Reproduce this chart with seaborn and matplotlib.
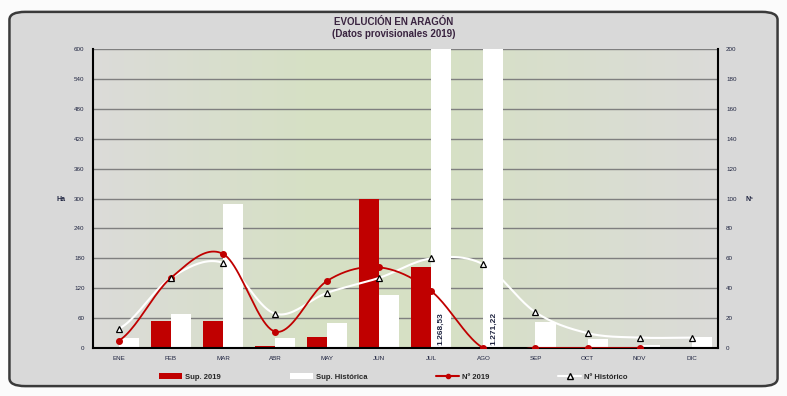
import numpy as np
import pandas as pd
import matplotlib
matplotlib.use("Agg")
import matplotlib.pyplot as plt
import seaborn as sns
from matplotlib.patches import FancyBboxPatch, Patch
from matplotlib.lines import Line2D

# =====================
# DATA
# =====================
meses = ["ENE", "FEB", "MAR", "ABR", "MAY", "JUN", "JUL", "AGO", "SEP", "OCT", "NOV", "DIC"]
sup_2019 = [0, 54, 54, 4, 22, 300, 162, 0, 0, 0, 0, 0]
sup_hist = [20, 68, 290, 20, 50, 106, 1268.53, 1271.22, 52, 18, 6, 22]
n_2019 = [5, 47, 63, 11, 45, 54, 38, 0, 0, 0, 0, None]
n_hist = [13, 47, 57, 23, 37, 47, 60, 56, 24, 10, 7, 7]
etiquetas = {6: "1.268,53", 7: "1.271,22"}

ROJO = "#c00000"
TXT = "#1f2440"

def suavizar(x, y, n=24):
    # curva tipo Excel (Catmull-Rom) entre puntos
    x = np.asarray(x, float)
    y = np.asarray(y, float)
    px = np.concatenate([[2 * x[0] - x[1]], x, [2 * x[-1] - x[-2]]])
    py = np.concatenate([[y[0]], y, [y[-1]]])
    xs, ys = [], []
    t = np.linspace(0, 1, n)
    for i in range(1, len(px) - 2):
        p0, p1, p2, p3 = py[i - 1], py[i], py[i + 1], py[i + 2]
        q0, q1, q2, q3 = px[i - 1], px[i], px[i + 1], px[i + 2]
        fy = 0.5 * ((2 * p1) + (-p0 + p2) * t + (2 * p0 - 5 * p1 + 4 * p2 - p3) * t**2 + (-p0 + 3 * p1 - 3 * p2 + p3) * t**3)
        fx = 0.5 * ((2 * q1) + (-q0 + q2) * t + (2 * q0 - 5 * q1 + 4 * q2 - q3) * t**2 + (-q0 + 3 * q1 - 3 * q2 + q3) * t**3)
        xs.append(fx)
        ys.append(fy)
    return np.concatenate(xs), np.concatenate(ys)

sns.set_style("white")
plt.rcParams["font.family"] = ["Liberation Sans", "DejaVu Sans"]

fig = plt.figure(figsize=(7.87, 3.96), dpi=100)
fig.patch.set_facecolor("#fbfbfb")
marco = FancyBboxPatch((0.012, 0.025), 0.976, 0.945, boxstyle="round,pad=0,rounding_size=0.02",
                       transform=fig.transFigure, facecolor="#d9d9d9", edgecolor="#3a3a3a", linewidth=1.8, zorder=-10)
fig.patches.append(marco)

ax = fig.add_axes([0.118, 0.121, 0.794, 0.755])
ax.set_facecolor("none")

# fondo degradado gris-verde-gris
grad = np.array([[0.86, 0.86, 0.85], [0.84, 0.88, 0.77], [0.84, 0.88, 0.77], [0.86, 0.86, 0.85]])
xs_g = np.linspace(0, 1, 200)
cols = np.stack([np.interp(xs_g, [0, 0.35, 0.55, 1], grad[:, c]) for c in range(3)], axis=-1)
ax.imshow(cols[np.newaxis, :, :], extent=[-0.5, 11.5, 0, 600], aspect="auto", zorder=-5)

df = pd.DataFrame({
    "mes": meses * 2,
    "valor": sup_2019 + sup_hist,
    "serie": ["Sup. 2019"] * 12 + ["Sup. Histórica"] * 12,
})
sns.barplot(data=df, x="mes", y="valor", hue="serie", palette=[ROJO, "white"],
            width=0.77, saturation=1, legend=False, ax=ax, zorder=2,
            linewidth=0, edgecolor="none")

ax.set_xlim(-0.5, 11.5)
ax.set_ylim(0, 600)
ax.set_yticks(range(0, 601, 60))
ax.yaxis.grid(True, color="#7f7f7f", linewidth=1)
ax.set_axisbelow(True)
ax.set_xlabel("")
ax.set_ylabel("")
ax.tick_params(axis="both", length=0, labelsize=4.5, labelcolor=TXT, pad=6)
for s in ["top", "right"]:
    ax.spines[s].set_visible(False)
for s in ["left", "bottom"]:
    ax.spines[s].set_color("black")
    ax.spines[s].set_linewidth(1.5)

for i, txt in etiquetas.items():
    ax.text(i + 0.19, 6, txt, rotation=90, ha="center", va="bottom", fontsize=6,
            fontweight="bold", color=TXT, zorder=4)

ax2 = ax.twinx()
ax2.set_ylim(0, 200)
ax2.set_yticks(range(0, 201, 20))
ax2.tick_params(axis="y", length=0, labelsize=4.5, labelcolor=TXT, pad=6)
for s in ["top", "left", "bottom"]:
    ax2.spines[s].set_visible(False)
ax2.spines["right"].set_color("black")
ax2.spines["right"].set_linewidth(1.5)

xh = np.arange(len(meses))
sx, sy = suavizar(xh, n_hist)
ax2.plot(sx, sy, color="white", linewidth=1.5, zorder=3)
ax2.plot(xh, n_hist, linestyle="none", marker="^", markersize=5, markerfacecolor="white",
         markeredgecolor="black", markeredgewidth=0.9, zorder=5)

x19 = np.array([i for i, v in enumerate(n_2019) if v is not None])
y19 = [v for v in n_2019 if v is not None]
sx, sy = suavizar(x19, y19)
ax2.plot(sx, sy, color=ROJO, linewidth=1.3, zorder=4)
ax2.plot(x19, y19, linestyle="none", marker="o", markersize=4, color=ROJO, zorder=4)

fig.text(0.5, 0.945, "EVOLUCIÓN EN ARAGÓN", ha="center", va="center", fontsize=7,
         fontweight="bold", color="#3a2440")
fig.text(0.5, 0.913, "(Datos provisionales 2019)", ha="center", va="center", fontsize=7,
         fontweight="bold", color="#3a2440")
fig.text(0.077, 0.497, "Ha", ha="center", va="center", fontsize=5, fontweight="bold", color=TXT)
fig.text(0.952, 0.497, "Nº", ha="center", va="center", fontsize=5, fontweight="bold", color=TXT)

handles = [
    Patch(facecolor=ROJO, edgecolor="none"),
    Patch(facecolor="white", edgecolor="none"),
    Line2D([], [], color=ROJO, marker="o", markersize=3, linewidth=1.5),
    Line2D([], [], color="white", marker="^", markersize=4, markerfacecolor="white",
           markeredgecolor="black", linewidth=1.5),
]
fig.legend(handles, ["Sup. 2019", "Sup. Histórica", "Nº 2019", "Nº Histórico"],
           loc="center", bbox_to_anchor=(0.5, 0.048), ncol=4, frameon=False,
           handlelength=3, handleheight=0.7, columnspacing=9, handletextpad=0.4,
           prop={"weight": "bold", "size": 5.5})

fig.savefig("out.png", dpi=100, facecolor=fig.get_facecolor())
